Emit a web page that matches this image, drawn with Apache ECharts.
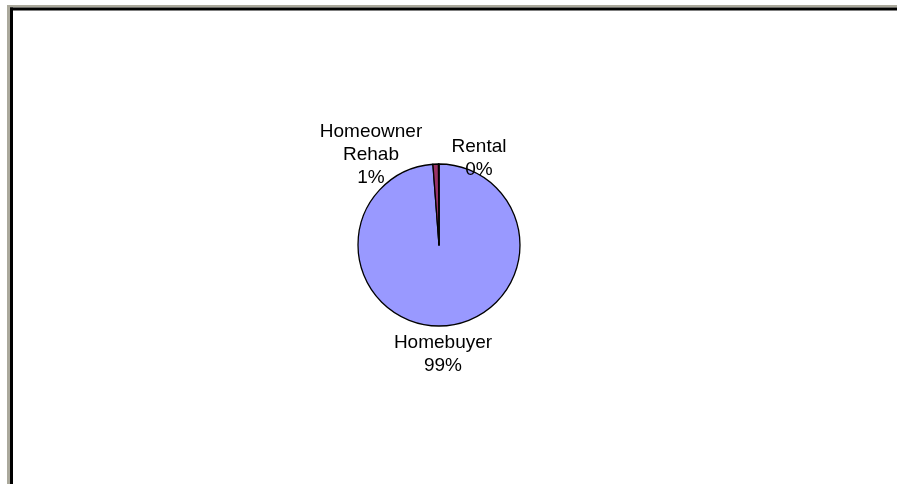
<!DOCTYPE html>
<html>
<head>
<meta charset="utf-8">
<script src="https://cdn.jsdelivr.net/npm/echarts@6/dist/echarts.min.js"></script>
<style>
html,body{margin:0;padding:0;background:#fff;}
#c{width:897px;height:484px;}
</style>
</head>
<body>
<div id="c"></div>
<script>
var categories = ['Homebuyer', 'Homeowner Rehab', 'Rental'];
var values = [98.8, 1.1, 0.1];
var colors = ['#9999FF', '#993366', '#FFFFCC'];
// label anchor positions (layout only)
var labelPos = [[443, 354], [371, 155], [479, 158]];

var chart = echarts.init(document.getElementById('c'), null, {renderer: 'canvas'});
chart.setOption({
  animation: false,
  backgroundColor: '#ffffff',
  graphic: [
    {type: 'rect', shape: {x: 7, y: 5, width: 890, height: 2.5}, style: {fill: '#ABA99C'}},
    {type: 'rect', shape: {x: 7, y: 5, width: 3, height: 479}, style: {fill: '#ABA99C'}},
    {type: 'rect', shape: {x: 10, y: 7.5, width: 887, height: 3}, style: {fill: '#000000'}},
    {type: 'rect', shape: {x: 10, y: 7.5, width: 3, height: 477}, style: {fill: '#000000'}}
  ],
  series: [{
    type: 'pie',
    center: [439, 245],
    radius: [0, 81],
    startAngle: 90,
    clockwise: true,
    percentPrecision: 0,
    avoidLabelOverlap: false,
    data: categories.map(function (n, i) {
      return {name: n, value: values[i], itemStyle: {color: colors[i]}};
    }),
    itemStyle: {borderColor: '#000000', borderWidth: 1.3},
    emphasis: {disabled: true},
    label: {
      show: true,
      position: 'outside',
      color: '#000000',
      fontFamily: 'Liberation Sans, Arial, sans-serif',
      fontSize: 19,
      lineHeight: 23,
      align: 'center',
      formatter: function (p) {
        return p.name.replace(' ', '\n') + '\n' + p.percent + '%';
      }
    },
    labelLine: {show: false},
    labelLayout: function (params) {
      var p = labelPos[params.dataIndex];
      return {x: p[0], y: p[1], align: 'center', verticalAlign: 'middle'};
    }
  }]
});
</script>
</body>
</html>
